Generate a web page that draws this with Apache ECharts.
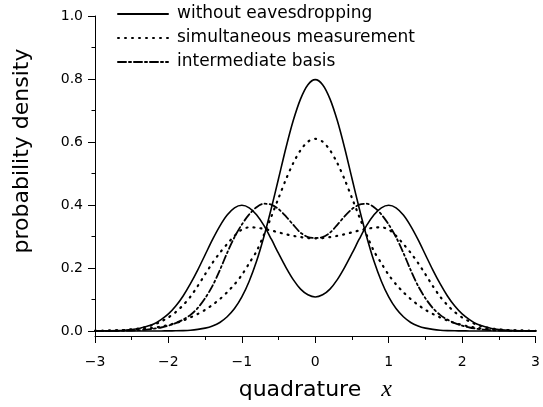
<!DOCTYPE html>
<html>
<head>
<meta charset="utf-8">
<script src="https://cdn.jsdelivr.net/npm/echarts@6/dist/echarts.min.js"></script>
<style>
html,body{margin:0;padding:0;background:#fff;}
#c{width:543px;height:407px;}
</style>
</head>
<body>
<div id="c"></div>
<script>
// quadrature values x
var xs = [-3.0,-2.9,-2.8,-2.7,-2.6,-2.5,-2.4,-2.3,-2.2,-2.1,-2.0,-1.9,-1.8,-1.7,-1.6,-1.5,-1.4,-1.3,-1.2,-1.1,-1.0,-0.9,-0.8,-0.7,-0.6,-0.5,-0.4,-0.3,-0.2,-0.1,
  0.0,0.1,0.2,0.3,0.4,0.5,0.6,0.7,0.8,0.9,1.0,1.1,1.2,1.3,1.4,1.5,1.6,1.7,1.8,1.9,2.0,2.1,2.2,2.3,2.4,2.5,2.6,2.7,2.8,2.9,3.0];

// without eavesdropping (central peak)
var noEveCentral = [0,0,0,0,0,0,0,0,0,0.0001,0.0003,0.0006,0.0012,0.0024,0.005,0.009,0.016,0.027,0.045,0.071,0.108,0.158,0.221,0.299,0.388,0.484,0.581,0.668,0.737,0.782,
  0.798,0.782,0.737,0.668,0.581,0.484,0.388,0.299,0.221,0.158,0.108,0.071,0.045,0.027,0.016,0.009,0.005,0.0024,0.0012,0.0006,0.0003,0.0001,0,0,0,0,0,0,0,0,0];

// without eavesdropping (two peaks)
var noEveSplit = [0.0001,0.0003,0.0006,0.0012,0.0024,0.0044,0.008,0.014,0.022,0.036,0.054,0.079,0.111,0.150,0.194,0.242,0.290,0.333,0.368,0.391,0.399,0.391,0.369,0.335,0.292,0.246,0.202,0.163,0.133,0.115,
  0.108,0.115,0.133,0.163,0.202,0.246,0.292,0.335,0.369,0.391,0.399,0.391,0.368,0.333,0.290,0.242,0.194,0.150,0.111,0.079,0.054,0.036,0.022,0.014,0.008,0.0044,0.0024,0.0012,0.0006,0.0003,0.0001];

// simultaneous measurement (central peak)
var simCentral = [0.0004,0.0007,0.001,0.0016,0.0024,0.0035,0.005,0.007,0.010,0.014,0.019,0.025,0.033,0.043,0.054,0.067,0.083,0.101,0.123,0.148,0.178,0.215,0.253,0.305,0.362,0.422,0.481,0.533,0.574,0.601,
  0.610,0.601,0.574,0.533,0.481,0.422,0.362,0.305,0.253,0.215,0.178,0.148,0.123,0.101,0.083,0.067,0.054,0.043,0.033,0.025,0.019,0.014,0.010,0.007,0.005,0.0035,0.0024,0.0016,0.001,0.0007,0.0004];

// simultaneous measurement (two peaks)
var simSplit = [0.0003,0.0006,0.001,0.002,0.003,0.005,0.008,0.013,0.020,0.030,0.043,0.060,0.082,0.109,0.143,0.180,0.216,0.248,0.276,0.302,0.322,0.329,0.328,0.324,0.319,0.313,0.307,0.302,0.298,0.295,
  0.294,0.295,0.298,0.302,0.307,0.313,0.319,0.324,0.328,0.329,0.322,0.302,0.276,0.248,0.216,0.180,0.143,0.109,0.082,0.060,0.043,0.030,0.020,0.013,0.008,0.005,0.003,0.002,0.001,0.0006,0.0003];

// intermediate basis
var interBasis = [0,0.0001,0.0003,0.0005,0.0009,0.0015,0.0025,0.004,0.007,0.011,0.017,0.025,0.036,0.051,0.073,0.104,0.143,0.193,0.248,0.298,0.338,0.370,0.393,0.404,0.401,0.387,0.364,0.337,0.312,0.298,
  0.295,0.298,0.312,0.337,0.364,0.387,0.401,0.404,0.393,0.370,0.338,0.298,0.248,0.193,0.143,0.104,0.073,0.051,0.036,0.025,0.017,0.011,0.007,0.004,0.0025,0.0015,0.0009,0.0005,0.0003,0.0001,0];

var yMajor = [0, 0.2, 0.4, 0.6, 0.8, 1.0];
var yMinor = [0.1, 0.3, 0.5, 0.7, 0.9];
var legendNames = ['without eavesdropping', 'simultaneous measurement', 'intermediate basis'];

function pairs(ys){ return xs.map(function(x,i){ return [x, ys[i]]; }); }

var FONT = 'DejaVu Sans';
function mkSeries(name, ys, type, w){
  return {
    type:'line', name:name, data:pairs(ys), showSymbol:false, symbol:'none',
    smooth:0.3, silent:true,
    lineStyle:{color:'#000', width:w, type:type, cap:'round'},
    itemStyle:{color:'#000'}
  };
}

var chart = echarts.init(document.getElementById('c'), null, {renderer:'canvas'});
chart.setOption({
  animation:false,
  backgroundColor:'#fff',
  grid:{left:95, right:4, top:16, bottom:69, containLabel:false},
  legend:{
    data:legendNames, orient:'vertical', left:117, top:5, padding:0,
    itemWidth:50, itemHeight:14, itemGap:6,
    itemStyle:{opacity:0, borderWidth:0},
    textStyle:{fontFamily:FONT, fontSize:17, color:'#000', lineHeight:18, padding:[0,0,0,4]},
    selectedMode:false
  },
  xAxis:{
    type:'value', min:-3, max:3, interval:1,
    axisLine:{onZero:false, lineStyle:{color:'#000', width:1}},
    axisTick:{show:true, inside:false, length:7, lineStyle:{color:'#000'}},
    minorTick:{show:true, splitNumber:2, length:4, lineStyle:{color:'#000'}},
    splitLine:{show:false},
    axisLabel:{color:'#000', fontFamily:FONT, fontSize:14, margin:19,
      formatter:function(v){ return String(v).replace('-', '\u2212'); }},
    name:'{a|quadrature}{b|x}', nameLocation:'middle', nameGap:42,
    nameTextStyle:{color:'#000', fontFamily:FONT, fontSize:22,
      rich:{a:{fontFamily:FONT, fontSize:22, color:'#000'},
            b:{fontFamily:'Liberation Serif', fontStyle:'italic', fontSize:24, color:'#000', padding:[0,0,0,20]}}}
  },
  yAxis:[{
    type:'value', min:-0.016, max:1.0,
    axisLine:{show:true, onZero:false, lineStyle:{color:'#000', width:1}},
    axisTick:{show:true, inside:false, length:7, customValues:yMajor, lineStyle:{color:'#000'}},
    splitLine:{show:false},
    axisLabel:{color:'#000', fontFamily:FONT, fontSize:14, margin:12, customValues:yMajor,
      formatter:function(v){ return v.toFixed(1); }}
  },{
    type:'value', min:-0.016, max:1.0, position:'left',
    axisLine:{show:false, onZero:false},
    axisTick:{show:true, inside:false, length:3.5, customValues:yMinor, lineStyle:{color:'#000'}},
    splitLine:{show:false},
    axisLabel:{show:false}
  }],
  graphic:[{
    type:'text', x:22, y:151, rotation:Math.PI/2,
    style:{text:'probability density', font:'22px "DejaVu Sans"', fill:'#000', textAlign:'center', textVerticalAlign:'middle'}
  }],
  series:[
    mkSeries(legendNames[0], noEveCentral, 'solid', 1.6),
    mkSeries(legendNames[0], noEveSplit, 'solid', 1.6),
    mkSeries(legendNames[1], simCentral, [1,6], 2.2),
    mkSeries(legendNames[1], simSplit, [1,6], 2.2),
    mkSeries(legendNames[2], interBasis, [8,3,2,3], 1.8)
  ]
});
</script>
</body>
</html>
